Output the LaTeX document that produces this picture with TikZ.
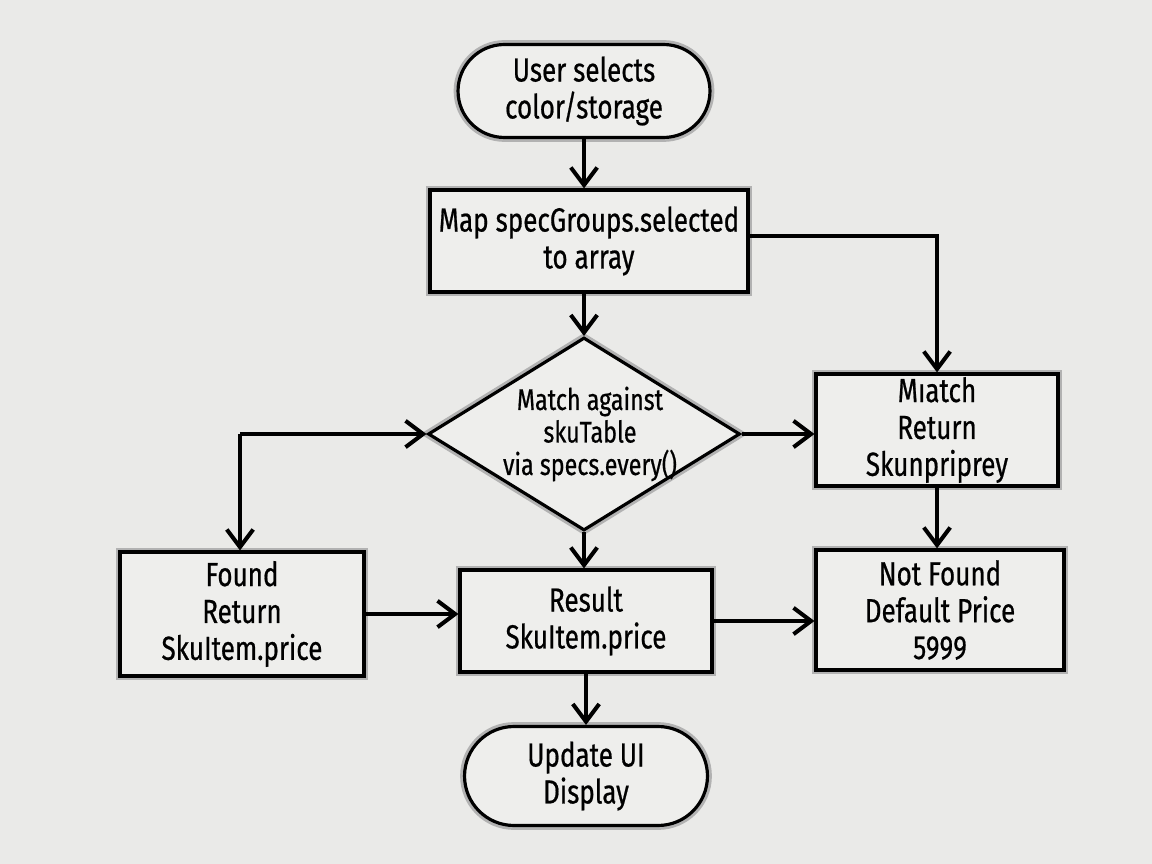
\documentclass[tikz,border=0pt]{standalone}
\usepackage{fontspec}
\setmainfont[FakeStretch=0.78,FakeBold=0.6]{Fira Sans}
\usetikzlibrary{arrows.meta,shapes.misc,shapes.geometric}
\definecolor{paper}{RGB}{234,234,232}
\definecolor{boxfill}{RGB}{238,238,236}
\begin{document}
\begin{tikzpicture}[x=0.02cm,y=-0.02cm,
  shadowed/.style={preaction={draw=black!30, line width=5pt}},
  box/.style={shadowed, draw=black, line width=1.8pt, fill=boxfill, align=center, inner sep=0pt,
    font=\fontsize{19}{21}\selectfont},
  term/.style={box, rounded rectangle, rounded rectangle arc length=180},
  dia/.style={shadowed, diamond, draw=black, line width=1.8pt, fill=boxfill, inner sep=0pt},
  diatext/.style={align=center, inner sep=0pt, font=\fontsize{17}{18.5}\selectfont},
  arr/.style={line width=2.3pt, -{Straight Barb[length=10pt,width=15pt]}}]
\fill[paper] (0,0) rectangle (1152,864);
\useasboundingbox (0,0) rectangle (1152,864);

\node[term, minimum width=5.04cm, minimum height=1.86cm] (start) at (584,91) {User selects\\color/storage};
\node[box, minimum width=6.36cm, minimum height=2.04cm] (map) at (589,241) {Map specGroups.selected\\to array};
\node[dia, minimum width=6.24cm, minimum height=3.86cm] (match) at (584,434) {};
\node[diatext] (matchtxt) at (590,434) {Match against\\skuTable\\via specs.every()};
\node[box, minimum width=4.84cm, minimum height=2.24cm] (mi) at (937,430) {Mıatch\\Return\\Skunpriprey};
\node[box, minimum width=4.88cm, minimum height=2.48cm] (found) at (242,614) {Found\\Return\\SkuItem.price};
\node[box, minimum width=5.04cm, minimum height=2.04cm] (res) at (586,621) {Result\\SkuItem.price};
\node[box, minimum width=4.96cm, minimum height=2.4cm] (nf) at (940,610) {Not Found\\Default Price\\5999};
\node[term, minimum width=4.86cm, minimum height=1.98cm] (end) at (586,776) {Update UI\\Display};
\coordinate (j) at (240,434);

\draw[arr] (start.south) -- (start.south |- map.north);
\draw[arr] (match.north |- map.south) -- (match.north);
\draw[arr] ([yshift=0.1cm]map.east) -| (mi.north);
\draw[arr] (match.east) -- (match.east -| mi.west);
\draw[arr] (j) -- (match.west);
\draw[arr] (j) -- (j |- found.north);
\draw[arr] (match.south) -- (match.south |- res.north);
\draw[arr] (mi.south) -- (mi.south |- nf.north);
\draw[arr] (found.east) -- (found.east -| res.west);
\draw[arr] (res.east) -- (res.east -| nf.west);
\draw[arr] (res.south) -- (res.south |- end.north);
\end{tikzpicture}
\end{document}
